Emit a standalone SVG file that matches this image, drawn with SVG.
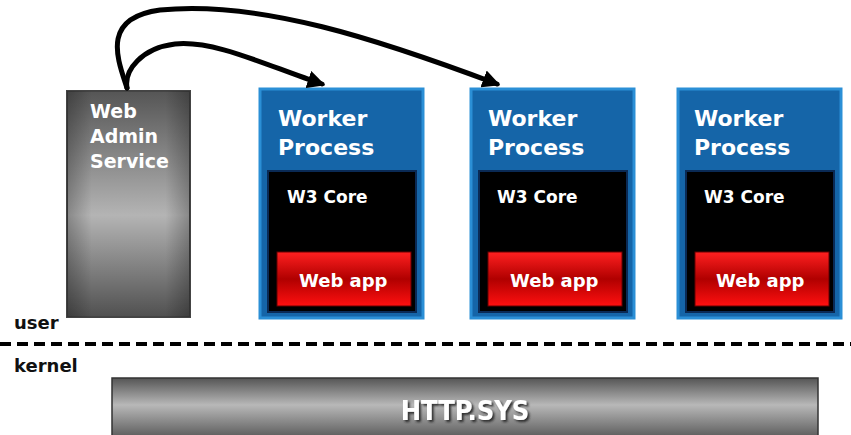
<svg xmlns="http://www.w3.org/2000/svg" width="851" height="435" viewBox="0 0 851 435">
<defs>
<linearGradient id="gAdmin" x1="0" y1="0" x2="0" y2="1">
<stop offset="0" stop-color="#555"/>
<stop offset="0.55" stop-color="#b4b4b4"/>
<stop offset="1" stop-color="#505050"/>
</linearGradient>
<linearGradient id="gAdminH" x1="0" y1="0" x2="1" y2="0">
<stop offset="0" stop-color="#000" stop-opacity="0.25"/>
<stop offset="0.2" stop-color="#000" stop-opacity="0"/>
<stop offset="0.8" stop-color="#000" stop-opacity="0"/>
<stop offset="1" stop-color="#000" stop-opacity="0.25"/>
</linearGradient>
<linearGradient id="gRed" x1="0" y1="0" x2="0" y2="1">
<stop offset="0" stop-color="#ff2020"/>
<stop offset="0.5" stop-color="#b00000"/>
<stop offset="1" stop-color="#ff1010"/>
</linearGradient>
<linearGradient id="gHttp" x1="0" y1="0" x2="0" y2="1">
<stop offset="0" stop-color="#555"/>
<stop offset="0.45" stop-color="#b8b8b8"/>
<stop offset="1" stop-color="#5a5a5a"/>
</linearGradient>
<filter id="shadow" x="-10%" y="-20%" width="130%" height="150%">
<feDropShadow dx="2" dy="2" stdDeviation="0.8" flood-color="#222" flood-opacity="0.9"/>
</filter>
<marker id="ah" viewBox="0 0 10 10" refX="8" refY="5" markerWidth="3.6" markerHeight="3.6" orient="auto" markerUnits="strokeWidth">
<path d="M0,0 L10,5 L0,10 z" fill="#000"/>
</marker>
<style>
.t{font-family:"DejaVu Sans",Verdana,sans-serif;font-weight:bold;fill:#fff}
.title{font-size:22px}
.core{font-size:17px}
.app{font-size:18px}
.lbl{font-family:"DejaVu Sans",sans-serif;font-weight:bold;font-size:18px;fill:#111}
.wp{fill:#1565a8;stroke:#2b8fd6;stroke-width:3}
.core-bg{fill:#000;stroke:#0a2a55;stroke-width:2}
.red{fill:url(#gRed);stroke:#600;stroke-width:1}
.conn{fill:none;stroke:#000;stroke-width:5;stroke-linecap:round;marker-end:url(#ah)}
</style>
</defs>
<rect width="851" height="435" fill="#fff"/>

<g id="web-admin">
<rect x="67" y="91" width="123" height="226" fill="url(#gAdmin)" stroke="#444" stroke-width="2"/>
<rect x="67" y="91" width="123" height="226" fill="url(#gAdminH)"/>
<text class="t" x="90" y="118" font-size="19" fill="#eee">Web</text>
<text class="t" x="90" y="143" font-size="19" fill="#eee">Admin</text>
<text class="t" x="90" y="168" font-size="19" fill="#eee">Service</text>
</g>

<g id="worker1">
<rect class="wp" x="260" y="89" width="163" height="229"/>
<rect class="core-bg" x="268" y="171" width="148" height="141"/>
<rect class="red" x="277" y="252" width="134" height="54"/>
<text class="t title" x="278" y="126">Worker</text>
<text class="t title" x="278" y="155">Process</text>
<text class="t core" x="287" y="203">W3 Core</text>
<text class="t app" x="299" y="287">Web app</text>
</g>

<g id="worker2">
<rect class="wp" x="471" y="89" width="163" height="229"/>
<rect class="core-bg" x="479" y="171" width="148" height="141"/>
<rect class="red" x="488" y="252" width="134" height="54"/>
<text class="t title" x="488" y="126">Worker</text>
<text class="t title" x="488" y="155">Process</text>
<text class="t core" x="497" y="203">W3 Core</text>
<text class="t app" x="510" y="287">Web app</text>
</g>

<g id="worker3">
<rect class="wp" x="678" y="89" width="163" height="229"/>
<rect class="core-bg" x="686" y="171" width="148" height="141"/>
<rect class="red" x="695" y="252" width="134" height="54"/>
<text class="t title" x="694" y="126">Worker</text>
<text class="t title" x="694" y="155">Process</text>
<text class="t core" x="704" y="203">W3 Core</text>
<text class="t app" x="716" y="287">Web app</text>
</g>

<g id="connectors">
<path class="conn" d="M127,88 C124,70 142,48 175,44 C215,40 265,65 322,84"/>
<path class="conn" d="M127,88 C118,60 100,18 160,10 C260,0 380,40 497,84"/>
</g>

<g id="boundary">
<line x1="0" y1="344" x2="851" y2="344" stroke="#000" stroke-width="4" stroke-dasharray="11,6"/>
<text class="lbl" x="14" y="329">user</text>
<text class="lbl" x="14" y="372">kernel</text>
</g>

<g id="http-sys">
<rect x="112" y="378" width="706" height="60" fill="url(#gHttp)" stroke="#333" stroke-width="1.5"/>
<text x="465" y="420" text-anchor="middle" font-family="'DejaVu Sans Condensed','Liberation Sans Narrow',sans-serif" font-weight="bold" font-size="27" fill="#fff" filter="url(#shadow)">HTTP.SYS</text>
</g>
</svg>
